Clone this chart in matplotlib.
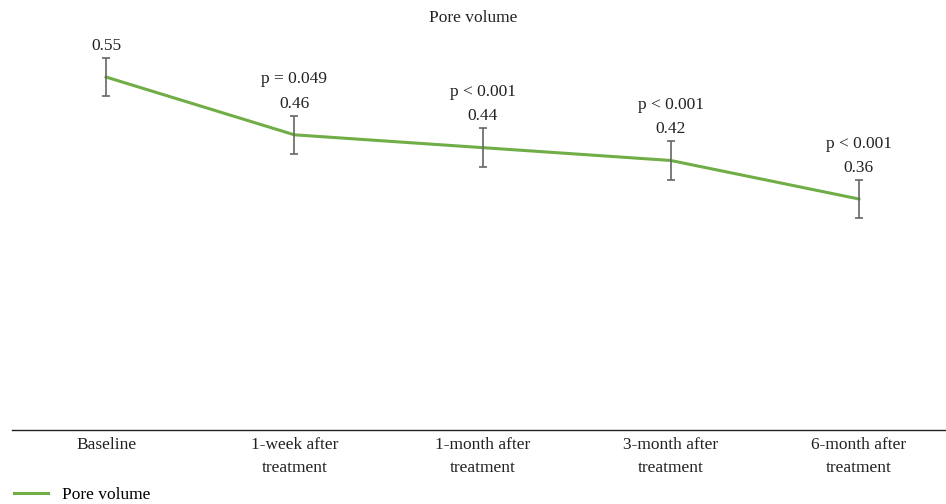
import matplotlib.pyplot as plt

categories = ['Baseline', '1-week after\ntreatment', '1-month after\ntreatment',
              '3-month after\ntreatment', '6-month after\ntreatment']
pore_volume = [0.55, 0.46, 0.44, 0.42, 0.36]
errors = [0.03, 0.03, 0.03, 0.03, 0.03]
p_values = ['', 'p = 0.049', 'p < 0.001', 'p < 0.001', 'p < 0.001']

plt.rcParams['font.family'] = ['Liberation Serif', 'DejaVu Serif']

figure = plt.figure(figsize=(9.46, 5.04), dpi=100)
ax = figure.add_axes([12 / 946, 0.1468, 941 / 946, 0.764])

x = list(range(len(categories)))
ax.plot(x, pore_volume, color='#70AD47', linewidth=2.2, label='Pore volume')
ax.errorbar(x, pore_volume, yerr=errors, fmt='none', ecolor='#666666',
            elinewidth=1.2, capsize=3, capthick=1.2)

for i in x:
    top = pore_volume[i] + errors[i]
    ax.annotate(f'{pore_volume[i]:.2f}', (i, top), xytext=(0, 8.6),
                textcoords='offset points', ha='center', va='center',
                fontsize=12.5, color='#222222', annotation_clip=False)
    if p_values[i]:
        ax.annotate(p_values[i], (i, top), xytext=(0, 26),
                    textcoords='offset points', ha='center', va='center',
                    fontsize=12.5, color='#222222', annotation_clip=False)

ax.set_xlim(-0.5, len(categories) - 0.5)
ax.set_ylim(0, 0.6)
ax.set_yticks([])
ax.set_xticks(x)
ax.set_xticklabels(categories, fontsize=12.5, color='#222222', linespacing=1.6)
ax.tick_params(axis='x', length=0, pad=5)
for side in ['top', 'left', 'right']:
    ax.spines[side].set_visible(False)
ax.spines['bottom'].set_color('#222222')
ax.spines['bottom'].set_linewidth(1.0)

figure.text(0.5, 1 - 18 / 504, 'Pore volume', ha='center', va='center',
            fontsize=12.5, color='#222222')

figure.legend(loc='lower left', bbox_to_anchor=(-0.002, -0.029), frameon=False,
              fontsize=12.5, handlelength=2.0, handletextpad=0.8)

plt.savefig('out.png', dpi=100)
